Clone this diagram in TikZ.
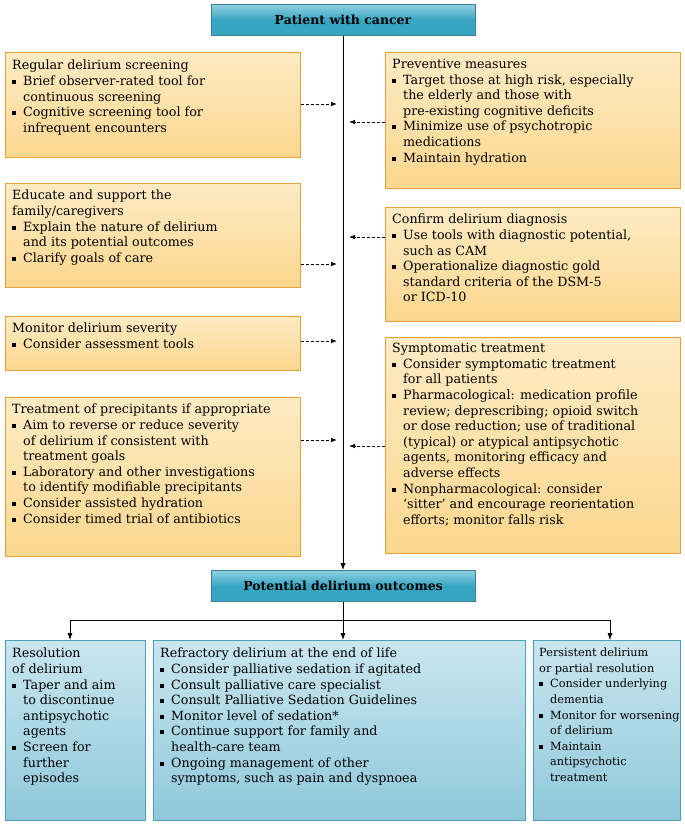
\documentclass[tikz,border=0pt]{standalone}
\usepackage{fontspec}
\setmainfont{DejaVu Serif}
\usetikzlibrary{arrows.meta}
\definecolor{ofill}{HTML}{FBD78E}
\definecolor{ofill2}{HTML}{FDEBC4}
\definecolor{oline}{HTML}{E3A23C}
\definecolor{bfill}{HTML}{8FC8DA}
\definecolor{bfill2}{HTML}{C9E6EF}
\definecolor{bline}{HTML}{4E9FBB}
\definecolor{tfill}{HTML}{37A6C2}
\definecolor{tfill2}{HTML}{8FD0E0}
\newcommand{\bl}{\par\noindent\hangindent=11pt\hangafter=1\makebox[11pt][l]{\raisebox{1.5pt}{\rule{4pt}{4pt}}}}
\newcommand{\bx}[3]{\parbox[t][#1][t]{#2}{\raggedright\fontsize{12.7}{15.6}\selectfont #3\par}}
\tikzset{
 obox/.style={draw=oline,line width=0.8pt,top color=ofill2,bottom color=ofill,anchor=north west,inner sep=0pt},
 bbox/.style={draw=bline,line width=0.8pt,top color=bfill2,bottom color=bfill,anchor=north west,inner sep=0pt},
 tbox/.style={draw=bline!80!black,line width=0.8pt,top color=tfill2,bottom color=tfill,middle color=tfill,minimum width=264pt,minimum height=31pt,font=\bfseries\fontsize{12.5}{14}\selectfont},
 da/.style={densely dashed,-{Latex[length=6pt]},line width=0.7pt},
 sa/.style={-{Latex[length=7pt]},line width=0.8pt}
}
\begin{document}
\begin{tikzpicture}[x=1pt,y=-1pt]
\useasboundingbox (0,0) rectangle (685,825);
\node[tbox] (top) at (343,20) {Patient with cancer};
\node[tbox] (out) at (343,586) {Potential delirium outcomes};
\draw[sa] (top.south) -- (out.north);
% left boxes
\node[obox,minimum width=295pt,minimum height=105pt,anchor=north west] (l1) at (5,52) {};
\node[anchor=north west,inner sep=0pt] (l1t) at (12,60) {\bx{95pt}{285pt}{Regular delirium screening
\bl Brief observer-rated tool for\newline continuous screening
\bl Cognitive screening tool for\newline infrequent encounters}};
\node[obox,minimum width=295pt,minimum height=104pt] (l2) at (5,183) {};
\node[anchor=north west,inner sep=0pt] (l2t) at (12,190) {\bx{95pt}{285pt}{Educate and support the\newline family/caregivers
\bl Explain the nature of delirium\newline and its potential outcomes
\bl Clarify goals of care}};
\node[obox,minimum width=295pt,minimum height=54pt] (l3) at (5,316) {};
\node[anchor=north west,inner sep=0pt] (l3t) at (12,323) {\bx{45pt}{285pt}{Monitor delirium severity
\bl Consider assessment tools}};
\node[obox,minimum width=295pt,minimum height=159pt] (l4) at (5,397) {};
\node[anchor=north west,inner sep=0pt] (l4t) at (12,404) {\bx{150pt}{285pt}{Treatment of precipitants if appropriate
\bl Aim to reverse or reduce severity\newline of delirium if consistent with\newline treatment goals
\bl Laboratory and other investigations\newline to identify modifiable precipitants
\bl Consider assisted hydration
\bl Consider timed trial of antibiotics}};
% right boxes
\node[obox,minimum width=295pt,minimum height=136pt] (r1) at (385,52) {};
\node[anchor=north west,inner sep=0pt] (r1t) at (392,59) {\bx{125pt}{285pt}{Preventive measures
\bl Target those at high risk, especially\newline the elderly and those with\newline pre-existing cognitive deficits
\bl Minimize use of psychotropic\newline medications
\bl Maintain hydration}};
\node[obox,minimum width=295pt,minimum height=114pt] (r2) at (385,207) {};
\node[anchor=north west,inner sep=0pt] (r2t) at (392,214) {\bx{105pt}{285pt}{Confirm delirium diagnosis
\bl Use tools with diagnostic potential,\newline such as CAM
\bl Operationalize diagnostic gold\newline standard criteria of the DSM-5\newline or ICD-10}};
\node[obox,minimum width=295pt,minimum height=216pt] (r3) at (385,337) {};
\node[anchor=north west,inner sep=0pt] (r3t) at (392,343) {\bx{205pt}{285pt}{Symptomatic treatment
\bl Consider symptomatic treatment\newline for all patients
\bl Pharmacological: medication profile\newline review; deprescribing; opioid switch\newline or dose reduction; use of traditional\newline (typical) or atypical antipsychotic\newline agents, monitoring efficacy and\newline adverse effects
\bl Nonpharmacological: consider\newline `sitter' and encourage reorientation\newline efforts; monitor falls risk}};
% dashed arrows
\draw[da] (l1.east |- 0,104) -- (337,104);
\draw[da] (l2.east |- 0,264) -- (337,264);
\draw[da] (l3.east |- 0,341) -- (337,341);
\draw[da] (l4.east |- 0,440) -- (337,440);
\draw[da] (r1.west |- 0,122) -- (349,122);
\draw[da] (r2.west |- 0,237) -- (349,237);
\draw[da] (r3.west |- 0,446) -- (349,446);
% bottom boxes
\node[bbox,minimum width=140pt,minimum height=180pt] (b1) at (5,640) {};
\node[anchor=north west,inner sep=0pt] (b1t) at (12,648) {\bx{170pt}{132pt}{Resolution\newline of delirium
\bl Taper and aim\newline to discontinue\newline antipsychotic\newline agents
\bl Screen for\newline further\newline episodes}};
\node[bbox,minimum width=372pt,minimum height=180pt] (b2) at (153,640) {};
\node[anchor=north west,inner sep=0pt] (b2t) at (160,648) {\bx{170pt}{362pt}{Refractory delirium at the end of life
\bl Consider palliative sedation if agitated
\bl Consult palliative care specialist
\bl Consult Palliative Sedation Guidelines
\bl Monitor level of sedation*
\bl Continue support for family and\newline health-care team
\bl Ongoing management of other\newline symptoms, such as pain and dyspnoea}};
\node[bbox,minimum width=147pt,minimum height=180pt] (b3) at (533,640) {};
\node[anchor=north west,inner sep=0pt] (b3t) at (539,648) {\bx{170pt}{142pt}{\fontsize{11.3}{15.6}\selectfont Persistent delirium\newline or partial resolution
\bl Consider underlying\newline dementia
\bl Monitor for worsening\newline of delirium
\bl Maintain antipsychotic\newline treatment}};
\coordinate (j) at (343,620);
\draw[line width=0.8pt] (out.south) -- (j);
\draw[sa] (j) -| (b1.north -| 70,0);
\draw[sa] (j) -- (b2.north -| j);
\draw[sa] (j) -| (b3.north -| 610,0);
\end{tikzpicture}
\end{document}
